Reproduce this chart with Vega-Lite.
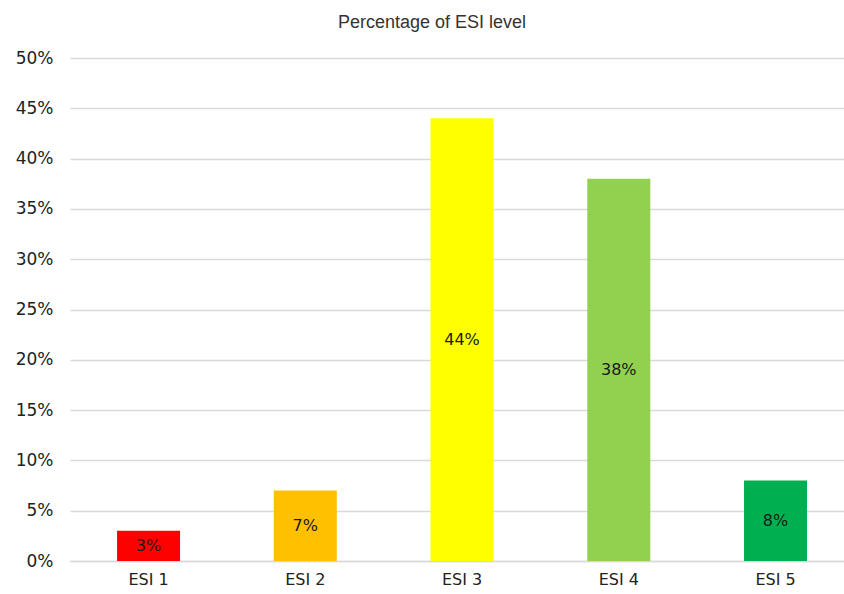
{
  "$schema": "https://vega.github.io/schema/vega-lite/v6.json",
  "width": 774,
  "height": 503,
  "autosize": "none",
  "padding": {"left": 70, "top": 58, "right": 0, "bottom": 33},
  "background": "white",
  "title": {"text": "Percentage of ESI level", "font": "Liberation Sans", "fontSize": 18, "fontWeight": "normal", "color": "#333333", "anchor": "middle", "frame": "group", "dx": -25, "offset": 17},
  "config": {"view": {"stroke": null}},
  "data": {"values": [
    {"level": "ESI 1", "pct": 0.03, "color": "#ff0000"},
    {"level": "ESI 2", "pct": 0.07, "color": "#ffc000"},
    {"level": "ESI 3", "pct": 0.44, "color": "#ffff00"},
    {"level": "ESI 4", "pct": 0.38, "color": "#92d050"},
    {"level": "ESI 5", "pct": 0.08, "color": "#00b050"}
  ]},
  "transform": [{"calculate": "datum.pct / 2", "as": "mid"}],
  "encoding": {
    "x": {"field": "level", "type": "nominal", "sort": null,
      "scale": {"paddingInner": 0.598, "paddingOuter": 0.268, "align": 0.56},
      "axis": {"title": null, "labelAngle": 0, "labelFont": "DejaVu Sans", "labelFontSize": 16, "labelColor": "#222222", "ticks": false, "labelPadding": 10, "domainColor": "#d9d9d9", "domainWidth": 1.5}}
  },
  "layer": [
    {"mark": {"type": "bar"},
     "encoding": {
       "y": {"field": "pct", "type": "quantitative",
         "scale": {"domain": [0, 0.5]},
         "axis": {"title": null, "format": ".0%", "values": [0, 0.05, 0.1, 0.15, 0.2, 0.25, 0.3, 0.35, 0.4, 0.45, 0.5], "labelFont": "DejaVu Sans", "labelFontSize": 17, "labelColor": "#222222", "ticks": false, "domain": false, "labelPadding": 17, "gridColor": "#d9d9d9", "gridWidth": 1.5}},
       "color": {"field": "color", "type": "nominal", "scale": null}
     }},
    {"mark": {"type": "text", "font": "DejaVu Sans", "fontSize": 16, "color": "#1a1a1a", "baseline": "middle"},
     "encoding": {
       "y": {"field": "mid", "type": "quantitative"},
       "text": {"field": "pct", "type": "quantitative", "format": ".0%"}
     }}
  ]
}
